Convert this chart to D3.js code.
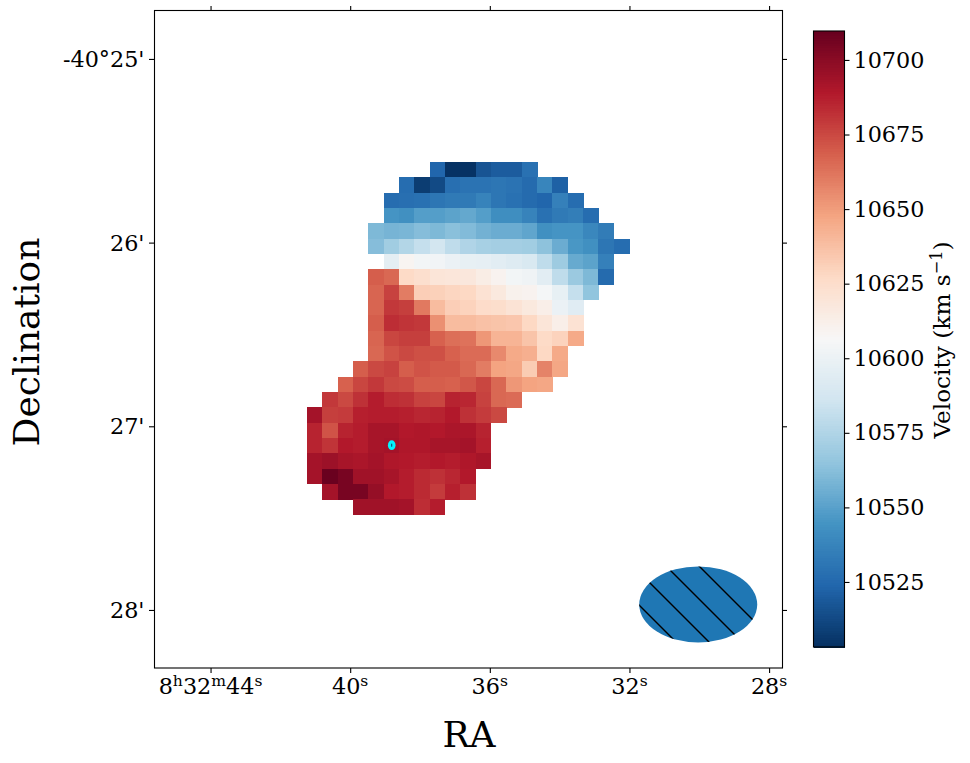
<!DOCTYPE html>
<html>
<head>
<meta charset="utf-8">
<script src="https://cdn.jsdelivr.net/npm/d3@7"></script>
<style>
  body { margin: 0; background: #fff; }
  svg { display: block; }
  text { font-family: "DejaVu Serif", serif; fill: #000; }
</style>
</head>
<body>
<div id="chart"></div>
<script>
//-------------------- velocity map (km/s), top row first --------------------
var firstColumn = [8, 6, 5, 5, 4, 4, 5, 4, 4, 4, 4, 4, 4, 3, 2, 1, 0, 0, 0, 0, 0, 1, 3];
var velocity = [
  [10524, 10504, 10504, 10517, 10520, 10520, 10529],
  [10527, 10508, 10513, 10528, 10530, 10530, 10531, 10530, 10526, 10538, 10522],
  [10527, 10528, 10529, 10531, 10533, 10533, 10537, 10531, 10529, 10526, 10524, 10536, 10527],
  [10545, 10543, 10549, 10549, 10551, 10553, 10549, 10542, 10542, 10537, 10529, 10533, 10535, 10527],
  [10560, 10558, 10559, 10562, 10560, 10563, 10561, 10557, 10555, 10555, 10552, 10543, 10545, 10545, 10539, 10534],
  [10562, 10570, 10576, 10582, 10587, 10580, 10575, 10572, 10571, 10571, 10570, 10564, 10555, 10546, 10543, 10531, 10527],
  [10596, 10609, 10604, 10603, 10600, 10598, 10597, 10595, 10593, 10590, 10580, 10569, 10554, 10551, 10536],
  [10669, 10666, 10627, 10624, 10620, 10619, 10618, 10614, 10610, 10604, 10602, 10595, 10580, 10568, 10560, 10526],
  [10667, 10677, 10660, 10632, 10631, 10629, 10628, 10622, 10617, 10611, 10610, 10605, 10598, 10582, 10565],
  [10667, 10680, 10678, 10661, 10639, 10632, 10630, 10626, 10625, 10621, 10617, 10613, 10600, 10594],
  [10669, 10683, 10681, 10680, 10654, 10639, 10639, 10637, 10636, 10635, 10628, 10620, 10613, 10622],
  [10667, 10676, 10678, 10678, 10668, 10664, 10663, 10652, 10642, 10642, 10636, 10627, 10630, 10646],
  [10666, 10672, 10675, 10673, 10673, 10668, 10665, 10665, 10656, 10646, 10644, 10628, 10646],
  [10669, 10675, 10677, 10669, 10672, 10670, 10670, 10666, 10660, 10648, 10647, 10633, 10658, 10647],
  [10668, 10676, 10680, 10675, 10674, 10669, 10669, 10668, 10671, 10676, 10666, 10652, 10648, 10647],
  [10680, 10675, 10682, 10688, 10683, 10682, 10677, 10676, 10686, 10685, 10677, 10666, 10665],
  [10693, 10678, 10679, 10687, 10688, 10688, 10687, 10685, 10686, 10689, 10682, 10679, 10675],
  [10686, 10672, 10686, 10688, 10692, 10692, 10689, 10690, 10689, 10691, 10691, 10686],
  [10686, 10681, 10689, 10688, 10692, 10693, 10690, 10690, 10692, 10692, 10693, 10687],
  [10693, 10695, 10692, 10691, 10693, 10690, 10689, 10688, 10689, 10688, 10690, 10692],
  [10693, 10709, 10705, 10694, 10694, 10692, 10688, 10684, 10682, 10685, 10689],
  [10693, 10705, 10705, 10697, 10689, 10688, 10684, 10679, 10687, 10682],
  [10694, 10694, 10694, 10693, 10683, 10688]
];
// RdBu_r stops
var cmapStops = ["#053061", "#2166ac", "#4393c3", "#92c5de", "#d1e5f0", "#f7f7f7", "#fddbc7", "#f4a582", "#d6604d", "#b2182b", "#67001f"];
var vMin = 10503.2, vMax = 10709.7;
var cbarTicks = [10525, 10550, 10575, 10600, 10625, 10650, 10675, 10700];
var raTicks = [44, 40, 36, 32, 28];
var raLabels = [[["8", 0], ["h", 1], ["32", 0], ["m", 1], ["44", 0], ["s", 1]], [["40", 0], ["s", 1]], [["36", 0], ["s", 1]], [["32", 0], ["s", 1]], [["28", 0], ["s", 1]]];
var decTicks = [25, 26, 27, 28];
var decLabels = ["-40°25'", "26'", "27'", "28'"];
// grid origin and step in sky units (seconds of RA, arcmin of dec below -40 deg)
var gridRa = 41.235, gridRaStep = 0.4393, gridDec = 25.561, gridDecStep = 0.08347;
var centre = {ra: 38.81, dec: 27.103};
var beam = {ra: 30.03, dec: 27.97, rRa: 1.69, rDec: 0.207};
var hatchOffsets = [34, 67, 100, 133];

var width = 970, height = 763;
var tickFont = 22.3, supFont = 15.6, titleFont = 36;
var svg = d3.select("#chart").append("svg").attr("width", width).attr("height", height);

var x = d3.scaleLinear().domain([45.62, 27.63]).range([154, 782]);
var y = d3.scaleLinear().domain([24.739, 28.316]).range([11, 668]);
var color = d3.scaleLinear()
  .domain(cmapStops.map(function(c, i) { return vMin + (vMax - vMin) * i / 10; }))
  .range(cmapStops);

//-------------------- map cells --------------------
var cells = [];
velocity.forEach(function(row, r) {
  row.forEach(function(v, i) { cells.push({row: r, col: firstColumn[r] + i, v: v}); });
});
svg.append("g").attr("shape-rendering", "crispEdges").selectAll("rect")
  .data(cells).enter().append("rect")
  .attr("x", function(d) { return x(gridRa - d.col * gridRaStep); })
  .attr("y", function(d) { return y(gridDec + d.row * gridDecStep); })
  .attr("width", function(d) { return x(gridRa - (d.col + 1) * gridRaStep) - x(gridRa - d.col * gridRaStep) + 0.4; })
  .attr("height", function(d) { return y(gridDec + (d.row + 1) * gridDecStep) - y(gridDec + d.row * gridDecStep) + 0.4; })
  .attr("fill", function(d) { return color(d.v); });

// central source marker
svg.append("ellipse")
  .attr("cx", x(centre.ra)).attr("cy", y(centre.dec)).attr("rx", 3.8).attr("ry", 4.9)
  .attr("fill", "#00f6ff");
svg.append("line")
  .attr("x1", x(centre.ra)).attr("x2", x(centre.ra))
  .attr("y1", y(centre.dec) - 1.5).attr("y2", y(centre.dec) + 1.5)
  .attr("stroke", "#123a5a").attr("stroke-width", 1);

//-------------------- beam --------------------
var cx = x(beam.ra), cy = y(beam.dec), rx = x(beam.ra - beam.rRa) - cx, ry = y(beam.dec + beam.rDec) - cy;
svg.append("clipPath").attr("id", "beamClip").append("ellipse")
  .attr("cx", cx).attr("cy", cy).attr("rx", rx).attr("ry", ry);
svg.append("ellipse").attr("cx", cx).attr("cy", cy).attr("rx", rx).attr("ry", ry).attr("fill", "#1f77b4");
svg.append("g").attr("clip-path", "url(#beamClip)").selectAll("line")
  .data(hatchOffsets).enter().append("line")
  .attr("x1", function(d) { return 540 + d; }).attr("y1", 540)
  .attr("x2", function(d) { return 660 + d; }).attr("y2", 660)
  .attr("stroke", "#000").attr("stroke-width", 1.4);

//-------------------- axes --------------------
function stripAxis(g) {
  g.select(".domain").remove();
  g.selectAll(".tick line").attr("stroke", "#000").attr("stroke-width", 1.1);
}
svg.append("g").attr("transform", "translate(0,668)")
  .call(d3.axisBottom(x).tickValues(raTicks).tickSize(5).tickFormat(""))
  .call(stripAxis);
svg.append("g").attr("transform", "translate(0,11)")
  .call(d3.axisTop(x).tickValues(raTicks).tickSize(5).tickFormat(""))
  .call(stripAxis);
svg.append("g").attr("transform", "translate(154,0)")
  .call(d3.axisLeft(y).tickValues(decTicks).tickSize(5).tickFormat(""))
  .call(stripAxis);
svg.append("g").attr("transform", "translate(782,0)")
  .call(d3.axisRight(y).tickValues(decTicks).tickSize(5).tickFormat(""))
  .call(stripAxis);
svg.append("rect").attr("x", 154.5).attr("y", 10.5).attr("width", 628).attr("height", 657.5)
  .attr("fill", "none").attr("stroke", "#000").attr("stroke-width", 1.1);

// tick labels with raised unit letters
raTicks.forEach(function(t, i) {
  var label = svg.append("text").attr("x", x(t)).attr("y", 694)
    .attr("text-anchor", "middle").attr("font-size", tickFont);
  var up = false;
  raLabels[i].forEach(function(part) {
    var sup = part[1] === 1;
    var span = label.append("tspan").text(part[0]).attr("font-size", sup ? supFont : tickFont);
    if (sup !== up) span.attr("dy", sup ? -8.5 : 8.5);
    up = sup;
  });
});
svg.append("g").selectAll("text").data(decTicks).enter().append("text")
  .attr("x", 144.5).attr("y", function(d) { return y(d) + 8; })
  .attr("text-anchor", "end").attr("font-size", tickFont)
  .text(function(d, i) { return decLabels[i]; });

svg.append("text").attr("x", 469).attr("y", 747).attr("text-anchor", "middle")
  .attr("font-size", titleFont).text("RA");
svg.append("text").attr("transform", "translate(38.5,342) rotate(-90)").attr("text-anchor", "middle")
  .attr("font-size", titleFont).text("Declination");

//-------------------- colorbar --------------------
var cbarY = d3.scaleLinear().domain([vMin, vMax]).range([647, 31]);
var levels = d3.range(256);
svg.append("g").attr("shape-rendering", "crispEdges").selectAll("rect")
  .data(levels).enter().append("rect")
  .attr("x", 813.5).attr("width", 31)
  .attr("y", function(d) { return cbarY(vMin + (vMax - vMin) * (d + 1) / 256); })
  .attr("height", function(d) { return cbarY(vMin + (vMax - vMin) * d / 256) - cbarY(vMin + (vMax - vMin) * (d + 1) / 256) + 0.5; })
  .attr("fill", function(d) { return color(vMin + (vMax - vMin) * (d + 0.5) / 256); });
svg.append("g").attr("transform", "translate(844.5,0)")
  .call(d3.axisRight(cbarY).tickValues(cbarTicks).tickSize(5).tickPadding(4).tickFormat(d3.format("d")))
  .call(stripAxis)
  .selectAll("text").attr("font-size", tickFont).attr("font-family", "DejaVu Serif");
svg.append("rect").attr("x", 813.5).attr("y", 31).attr("width", 31).attr("height", 616)
  .attr("fill", "none").attr("stroke", "#000").attr("stroke-width", 1.1);

var cbarLabel = svg.append("text").attr("transform", "translate(950,340) rotate(-90)")
  .attr("text-anchor", "middle").attr("font-size", 23.2);
cbarLabel.append("tspan").text("Velocity (km s");
cbarLabel.append("tspan").text("−1").attr("font-size", 16.2).attr("dy", -8.5);
cbarLabel.append("tspan").text(")").attr("dy", 8.5);
</script>
</body>
</html>
